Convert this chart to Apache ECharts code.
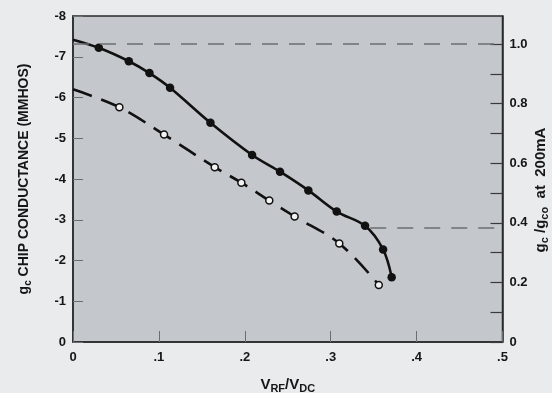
<!DOCTYPE html>
<html>
<head>
<meta charset="utf-8">
<script src="https://cdn.jsdelivr.net/npm/echarts@6/dist/echarts.min.js"></script>
<style>
  html, body { margin: 0; padding: 0; background: #eaebed; }
  #chart { width: 552px; height: 393px; }
</style>
</head>
<body>
<div id="chart"></div>
<script>
// Chip conductance vs. RF/DC voltage ratio
const xTicks = [0, 0.1, 0.2, 0.3, 0.4, 0.5];

// solid curve (filled markers); first point is the curve start without marker
const solidX = [0, 0.030, 0.065, 0.089, 0.113, 0.160, 0.2085, 0.241, 0.274, 0.307, 0.340, 0.361, 0.371];
const solidY = [-7.42, -7.22, -6.89, -6.60, -6.24, -5.38, -4.59, -4.18, -3.72, -3.20, -2.85, -2.27, -1.59];

// dashed curve (open markers); first point is the curve start without marker
const dashX = [0, 0.054, 0.106, 0.165, 0.196, 0.2285, 0.258, 0.310, 0.356];
const dashY = [-6.20, -5.76, -5.09, -4.29, -3.91, -3.47, -3.08, -2.42, -1.40];

// normalisation: g_c0 at 200 mA
const gc0 = 7.31;
// reference levels: [xStart, xEnd, g_c]
const refTop = [0, 0.5, -7.31];
const refLow = [0.346, 0.5, -2.80];

const font = '"Liberation Sans", Arial, sans-serif';
const ink = '#161616';

function pairs(xs, ys) {
  return xs.map((x, i) => i === 0 ? { value: [x, ys[i]], symbol: 'none' } : [x, ys[i]]);
}

function titleStyle(size, subSize) {
  return {
    m: { fontSize: size, fontWeight: 'bold', fontFamily: font, color: ink, lineHeight: size + 4 },
    s: { fontSize: subSize, fontWeight: 'bold', fontFamily: font, color: ink, lineHeight: subSize, verticalAlign: 'bottom' }
  };
}

const tickFont = { color: ink, fontSize: 13, fontWeight: 'bold', fontFamily: font };

const chart = echarts.init(document.getElementById('chart'), null, { renderer: 'canvas' });
chart.setOption({
  backgroundColor: '#eaebed',
  animation: false,
  grid: {
    left: 73, right: 49.5, top: 16, bottom: 51,
    containLabel: false, outerBoundsMode: 'none',
    show: true, backgroundColor: '#c4c7cb', borderColor: '#2a2a2a', borderWidth: 1.5
  },
  xAxis: {
    type: 'value', min: xTicks[0], max: xTicks[xTicks.length - 1], interval: 0.1,
    name: '{m|V}{s|RF}{m|/V}{s|DC}',
    nameLocation: 'middle', nameGap: 33,
    nameTextStyle: { rich: titleStyle(15, 11) },
    axisLine: { lineStyle: { color: '#2a2a2a', width: 1.5 } },
    axisTick: { inside: true, length: 11, lineStyle: { color: '#6a6d71', width: 1 } },
    axisLabel: Object.assign({
      margin: 9,
      formatter: v => v === 0 ? '0' : '.' + Math.round(v * 10)
    }, tickFont),
    splitLine: { show: false }
  },
  yAxis: [{
    type: 'value', min: -8, max: 0, interval: 1, inverse: true,
    name: '{m|g}{s|c}{m| CHIP CONDUCTANCE (MMHOS)}',
    nameLocation: 'middle', nameGap: 40, nameRotate: 90,
    nameTextStyle: { rich: titleStyle(14, 10) },
    axisLine: { show: true, lineStyle: { color: '#2a2a2a', width: 1.5 } },
    axisTick: { inside: true, length: 10, lineStyle: { color: '#6a6d71', width: 1 } },
    axisLabel: Object.assign({ margin: 7 }, tickFont),
    splitLine: { show: false }
  }, {
    type: 'value', position: 'right', min: 0, max: 8 / gc0, interval: 0.1,
    name: '{m|g}{s|c}{m| /g}{s|co}{m|  at  200mA}',
    nameLocation: 'middle', nameGap: 29, nameRotate: 90, nameMoveOverlap: false,
    nameTextStyle: { rich: titleStyle(15, 11), padding: [0, 22, 0, 0] },
    axisLine: { show: true, lineStyle: { color: '#2a2a2a', width: 1.5 } },
    axisTick: { inside: true, length: 12, lineStyle: { color: '#3a3a3a', width: 1.2 } },
    axisLabel: Object.assign({
      margin: 7, showMaxLabel: false,
      formatter: v => {
        const k = Math.round(v * 10);
        if (Math.abs(v * 10 - k) > 1e-6 || k % 2 !== 0) return '';
        return k === 0 ? '0' : (k / 10).toFixed(1);
      }
    }, tickFont),
    splitLine: { show: false }
  }],
  series: [{
    type: 'line', yAxisIndex: 0,
    data: pairs(solidX, solidY),
    smooth: 0.35,
    symbol: 'circle', symbolSize: 8.5,
    itemStyle: { color: '#111' },
    lineStyle: { color: '#111', width: 2.6 },
    markLine: {
      silent: true, symbol: 'none', label: { show: false },
      lineStyle: { color: '#6b6f74', width: 1.5, type: [16, 11] },
      data: [
        [{ coord: [refTop[0], refTop[2]] }, { coord: [refTop[1], refTop[2]] }],
        [{ coord: [refLow[0], refLow[2]] }, { coord: [refLow[1], refLow[2]] }]
      ]
    },
    z: 3
  }, {
    type: 'line', yAxisIndex: 0,
    data: pairs(dashX, dashY),
    smooth: 0.35,
    symbol: 'circle', symbolSize: 7,
    itemStyle: { color: '#f2f2f2', borderColor: '#111', borderWidth: 1.5 },
    lineStyle: { color: '#111', width: 2.6, type: [20, 10] },
    z: 3
  }]
});
</script>
</body>
</html>
